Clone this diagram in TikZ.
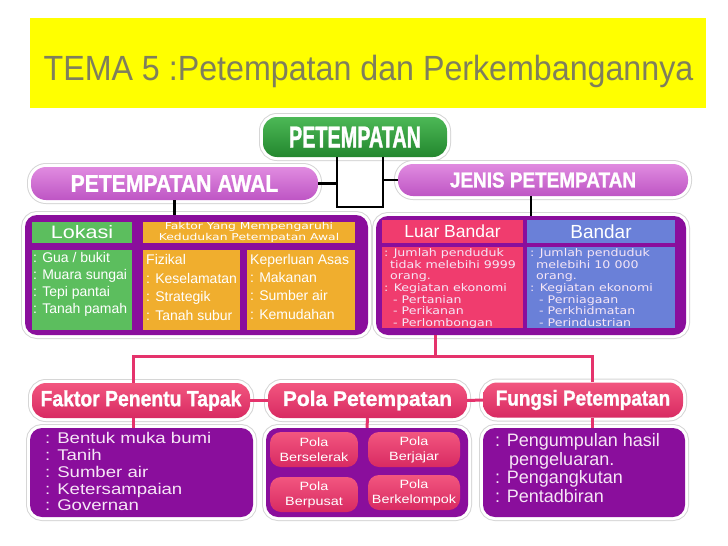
\documentclass[tikz,border=0pt]{standalone}
\usepackage{fontspec}
\setmainfont{Liberation Sans}
\newfontfamily\condA{Liberation Sans}[FakeStretch=0.66,FakeBold=1.2]
\newfontfamily\condB{Liberation Sans}[FakeStretch=0.88,FakeBold=1.2]
\newfontfamily\hvy{Liberation Sans}[FakeBold=1.2]
\newfontfamily\ttlfont{Liberation Sans}[FakeStretch=0.92]
\newfontfamily\wideA{DejaVu Sans}[FakeStretch=1.2]
\newfontfamily\wideH{DejaVu Sans}[FakeStretch=1.3]
\newfontfamily\wideB{Liberation Sans}[FakeStretch=1.2]
\newcommand\myfs[2]{\fontsize{#1}{#2}\selectfont}
\definecolor{ylw}{HTML}{FFFF00}
\definecolor{ttl}{HTML}{7F7F5C}
\definecolor{grnT}{HTML}{4CB856}
\definecolor{grnB}{HTML}{23872E}
\definecolor{vioT}{HTML}{E08BE0}
\definecolor{vioB}{HTML}{BE55C4}
\definecolor{purp}{HTML}{8A0E9C}
\definecolor{lgrn}{HTML}{5CBE5E}
\definecolor{orng}{HTML}{F0AE2E}
\definecolor{rpink}{HTML}{F03C6E}
\definecolor{rblue}{HTML}{6A80D8}
\definecolor{pkT}{HTML}{F2567F}
\definecolor{pkB}{HTML}{D82A62}
\definecolor{pkline}{HTML}{E5336C}
\definecolor{ltxt}{HTML}{F6E6F6}
\begin{document}
\begin{tikzpicture}[x=1pt,y=-1pt,
  halo/.style={preaction={draw=black!16,line width=8pt},preaction={draw=white,line width=6pt}},
  gpill/.style={halo, rounded corners=14pt, top color=grnT, bottom color=grnB, text=white, inner sep=0pt},
  vpill/.style={halo, rounded corners=15pt, top color=vioT, bottom color=vioB, text=white, inner sep=0pt},
  pkhead/.style={halo, rounded corners=14pt, top color=pkT, bottom color=pkB, text=white, inner sep=0pt},
  pbox/.style={halo, rounded corners=12pt, fill=purp, inner sep=0pt},
  gbox/.style={fill=lgrn, text=white, inner sep=0pt},
  obox/.style={fill=orng, text=white, inner sep=0pt, align=center},
  rbx/.style={fill=rpink, text=white, inner sep=0pt},
  bbx/.style={fill=rblue, text=white, inner sep=0pt},
  polapill/.style={rounded corners=11pt, top color=pkT, bottom color=pkB, text=white, inner sep=0pt, align=center,
     minimum height=35, font=\wideB\myfs{12}{15}},
  txt/.style={anchor=north west, inner sep=0pt, align=left, text=white},
  blk/.style={draw=black, line width=2.5pt},
  pnk/.style={draw=pkline, line width=3pt}
]
\useasboundingbox (0,0) rectangle (728,546);
\fill[white] (0,0) rectangle (728,546);

% title
\node[fill=ylw, minimum width=676, minimum height=90, inner sep=0pt] (banner) at (368,63) {};
\node[anchor=base, text=ttl, inner sep=0pt, font=\ttlfont\myfs{35}{35}] (title) at (368.5,80) {TEMA 5 :Petempatan dan Perkembangannya};

% top level
\node[gpill, minimum width=184, minimum height=40, font=\condA\bfseries\myfs{30}{30}] (pet) at (355,137) {PETEMPATAN};
\node[vpill, minimum width=287, minimum height=33, font=\condB\bfseries\myfs{24}{24}] (awal) at (174.5,183.5) {PETEMPATAN AWAL};
\node[vpill, minimum width=290, minimum height=32, font=\condB\bfseries\myfs{21.5}{21.5}] (jenis) at (543,180) {JENIS PETEMPATAN};

% big boxes
\node[pbox, minimum width=343, minimum height=120] (lbox) at (196.5,275) {};
\node[pbox, minimum width=310, minimum height=119] (rbox) at (531,275.5) {};

% left inner
\node[gbox, minimum width=100, minimum height=21, font=\wideB\myfs{18}{18}] (lokh) at (82,232.5) {Lokasi};
\node[gbox, minimum width=100, minimum height=80] (lokb) at (82,290) {};
\node[txt, font=\myfs{14}{17}] (lokt) at (33,252.5) {: Gua / bukit\\: Muara sungai\\: Tepi pantai\\: Tanah pamah};
\node[obox, minimum width=212, minimum height=21, font=\wideH\myfs{9.5}{11.5}] (orh) at (249,232.5) {Faktor Yang Mempengaruhi\\Kedudukan Petempatan Awal};
\node[obox, minimum width=97, minimum height=80] (fiz) at (191.5,290) {};
\node[txt, font=\myfs{14}{18.7}] (fizt) at (146,254) {Fizikal\\: Keselamatan\\: Strategik\\: Tanah subur};
\node[obox, minimum width=108, minimum height=80] (kep) at (301,290) {};
\node[txt, font=\myfs{14}{18.3}] (kept) at (250,254) {Keperluan Asas\\: Makanan\\: Sumber air\\: Kemudahan};

% right inner
\node[rbx, minimum width=141, minimum height=23, font=\myfs{17.5}{17.5}] (luarh) at (452.5,231.5) {Luar Bandar};
\node[rbx, minimum width=141, minimum height=81] (luarb) at (452.5,287.5) {};
\node[txt, text=ltxt, font=\wideA\myfs{10.5}{11.6}] (luart) at (384,248.5) {: Jumlah penduduk\\\hspace*{6pt}tidak melebihi 9999\\\hspace*{6pt}orang.\\: Kegiatan ekonomi\\\hspace*{9pt}- Pertanian\\\hspace*{9pt}- Perikanan\\\hspace*{9pt}- Perlombongan};
\node[bbx, minimum width=148, minimum height=23, font=\myfs{19}{19}] (bandh) at (601,231.5) {Bandar};
\node[bbx, minimum width=148, minimum height=81] (bandb) at (601,287.5) {};
\node[txt, text=ltxt, font=\wideA\myfs{10.5}{11.6}] (bandt) at (530,248.5) {: Jumlah penduduk\\\hspace*{6pt}melebihi 10 000\\\hspace*{6pt}orang.\\: Kegiatan ekonomi\\\hspace*{9pt}- Perniagaan\\\hspace*{9pt}- Perkhidmatan\\\hspace*{9pt}- Perindustrian};

% bottom headers
\node[pkhead, minimum width=218, minimum height=35, font=\condB\bfseries\myfs{22}{22}] (faktor) at (141,400.5) {Faktor Penentu Tapak};
\node[pkhead, minimum width=199, minimum height=35, font=\hvy\bfseries\myfs{21}{21}] (pola) at (367.5,400.5) {Pola Petempatan};
\node[pkhead, minimum width=200, minimum height=35, font=\condB\bfseries\myfs{21.5}{21.5}] (fungsi) at (583,400) {Fungsi Petempatan};

% bottom bodies
\node[pbox, minimum width=223, minimum height=89] (fb) at (141.5,472.5) {};
\node[txt, text=ltxt, font=\wideB\myfs{15.5}{16.7}] (fbt) at (45,432.5) {: Bentuk muka bumi\\: Tanih\\: Sumber air\\: Ketersampaian\\: Governan};
\node[pbox, minimum width=202, minimum height=89] (pb) at (367,472.5) {};
\node[polapill, minimum width=88] (p1) at (314,449.5) {Pola\\Berselerak};
\node[polapill, minimum width=92] (p2) at (414,449.5) {Pola\\Berjajar};
\node[polapill, minimum width=88] (p3) at (314,494.5) {Pola\\Berpusat};
\node[polapill, minimum width=92] (p4) at (414,492.5) {Pola\\Berkelompok};
\node[pbox, minimum width=202, minimum height=89] (fub) at (584,472.5) {};
\node[txt, text=ltxt, font=\myfs{18}{18.5}] (fubt) at (495,433.5) {: Pengumpulan hasil\\\hspace*{14pt}pengeluaran.\\: Pengangkutan\\: Pentadbiran};

% black connectors
\coordinate (ja) at (337,207);
\coordinate (jb) at (383,207);
\draw[blk] (pet.south -| ja) -- (ja) -- (jb) -- (pet.south -| jb);
\draw[blk] (awal.east) -- (awal.east -| ja);
\draw[blk] (jenis.west) -- (jenis.west -| jb);
\draw[blk] (awal.south) -- (awal.south |- lbox.north);
\draw[blk] (jenis.south -| rbox.north) -- (rbox.north);

% pink connectors
\coordinate (hm) at (435,356);
\coordinate (hl) at (133,356);
\coordinate (hr) at (592,356);
\draw[pnk] (rbox.south -| hm) -- (hm);
\draw[pnk] (hl |- faktor.north) -- (hl) -- (hr) -- (hr |- fungsi.north);
\draw[pnk] (faktor.east) -- (pola.west);
\draw[pnk] (pola.east) -- (fungsi.west);
\draw[pnk] (faktor.south -| hl) -- (fb.north -| hl);
\draw[pnk] (pola.south) -- (pb.north);
\draw[pnk] (fungsi.south -| hr) -- (fub.north -| hr);
\end{tikzpicture}
\end{document}
